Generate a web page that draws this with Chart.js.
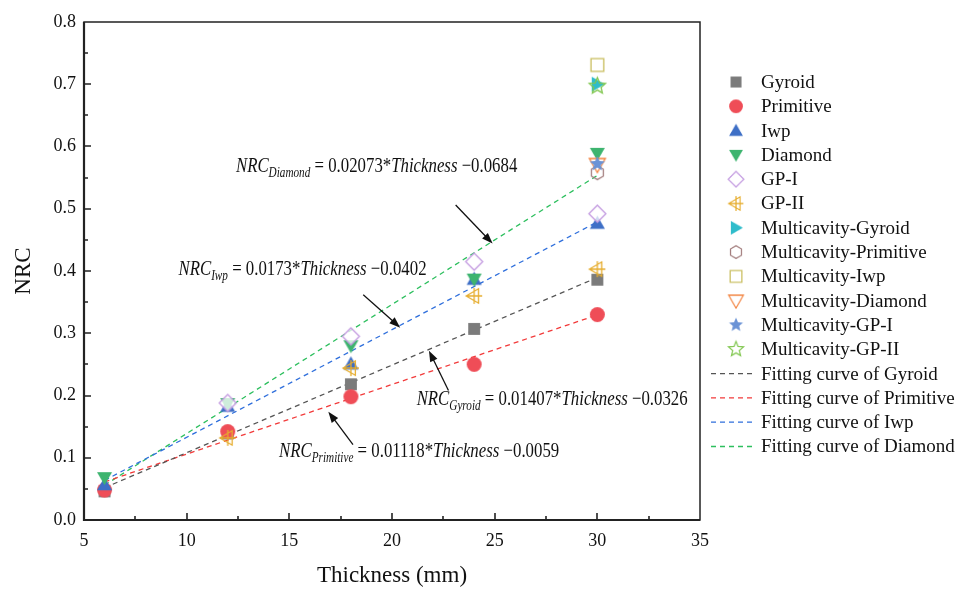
<!DOCTYPE html>
<html>
<head>
<meta charset="utf-8">
<script src="https://cdn.jsdelivr.net/npm/chart.js@4.4.1/dist/chart.umd.min.js"></script>
<style>
  html, body { margin: 0; padding: 0; background: #fff; }
</style>
</head>
<body>
<canvas id="nrcChart" width="960" height="590"></canvas>
<script>
// thickness of the samples (mm)
const thickness = [6, 12, 18, 24, 30];

// measured NRC per structure (null = no sample)
const gyroid    = [0.046, 0.139, 0.218, 0.307, 0.386];
const primitive = [0.048, 0.142, 0.198, 0.250, 0.330];
const iwp       = [0.057, 0.183, 0.251, 0.387, 0.477];
const diamond   = [0.068, 0.187, 0.280, 0.387, 0.589];
const gp1       = [null, 0.188, 0.295, 0.415, 0.492];
const gp2       = [null, 0.132, 0.244, 0.360, 0.403];

// multicavity samples, 30 mm only
const mcThickness = [30];
const mcGyroid    = [0.700];
const mcPrimitive = [0.558];
const mcIwp       = [0.731];
const mcDiamond   = [0.571];
const mcGp1       = [0.572];
const mcGp2       = [0.697];

// fitted lines, evaluated at 6 and 30 mm
const fitX         = [6, 30];
const fitGyroid    = [0.0518, 0.3895];
const fitPrimitive = [0.0612, 0.3295];
const fitIwp       = [0.0636, 0.4788];
const fitDiamond   = [0.0560, 0.5535];

const SERIF = '"Liberation Serif", "Times New Roman", serif';

function pts(xs, ys) {
  return xs.map((x, i) => ({ x: x, y: ys[i] })).filter(p => p.y !== null);
}

// marker images, so the plot and the legend share one look
function marker(shape, fill, stroke, size) {
  const s = size + 6;
  const c = document.createElement('canvas');
  c.width = s; c.height = s;
  const g = c.getContext('2d');
  g.translate(s / 2, s / 2);
  const r = size / 2;
  g.lineWidth = 1.3;
  g.beginPath();
  if (shape === 'square') {
    g.rect(-r * 0.85, -r * 0.85, r * 1.7, r * 1.7);
  } else if (shape === 'circle') {
    g.arc(0, 0, r, 0, Math.PI * 2);
  } else if (shape === 'up') {
    g.moveTo(0, -r); g.lineTo(r, r * 0.75); g.lineTo(-r, r * 0.75); g.closePath();
  } else if (shape === 'down') {
    g.moveTo(0, r); g.lineTo(r, -r * 0.75); g.lineTo(-r, -r * 0.75); g.closePath();
  } else if (shape === 'right') {
    g.moveTo(r, 0); g.lineTo(-r * 0.75, -r); g.lineTo(-r * 0.75, r); g.closePath();
  } else if (shape === 'diamond') {
    g.moveTo(0, -r); g.lineTo(r, 0); g.lineTo(0, r); g.lineTo(-r, 0); g.closePath();
  } else if (shape === 'hexagon') {
    for (let k = 0; k < 6; k++) {
      const a = -Math.PI / 2 + k * Math.PI / 3;
      const px = Math.cos(a) * r * 0.92, py = Math.sin(a) * r * 0.92;
      k ? g.lineTo(px, py) : g.moveTo(px, py);
    }
    g.closePath();
  } else if (shape === 'star') {
    for (let k = 0; k < 10; k++) {
      const a = -Math.PI / 2 + k * Math.PI / 5;
      const rr = k % 2 ? r * 0.45 : r;
      const px = Math.cos(a) * rr, py = Math.sin(a) * rr;
      k ? g.lineTo(px, py) : g.moveTo(px, py);
    }
    g.closePath();
  } else if (shape === 'leftcross') {
    g.moveTo(-r, 0); g.lineTo(r * 0.55, -r * 0.9); g.lineTo(r * 0.55, r * 0.9); g.closePath();
    g.moveTo(-r, 0); g.lineTo(r, 0);
    g.moveTo(0, -r); g.lineTo(0, r);
  }
  if (fill) { g.fillStyle = fill; g.fill(); }
  if (stroke) { g.strokeStyle = stroke; g.stroke(); }
  return c;
}

function scatterSet(label, xs, ys, style, order) {
  return {
    type: 'scatter',
    label: label,
    data: pts(xs, ys),
    pointStyle: style,
    pointRadius: 7,
    order: order
  };
}

function fitSet(label, ys, color) {
  return {
    type: 'line',
    label: label,
    data: pts(fitX, ys),
    borderColor: color,
    borderWidth: 1.3,
    borderDash: [5, 4],
    pointRadius: 0,
    fill: false,
    order: 100,
    lineColor: color
  };
}

const datasets = [
  scatterSet('Gyroid', thickness, gyroid, marker('square', '#7b7b7b', null, 14), 30),
  scatterSet('Primitive', thickness, primitive, marker('circle', '#ef4d57', null, 15), 29),
  scatterSet('Iwp', thickness, iwp, marker('up', '#3e6fc6', null, 15), 28),
  scatterSet('Diamond', thickness, diamond, marker('down', '#3db46f', null, 15), 27),
  scatterSet('GP-I', thickness, gp1, marker('diamond', 'rgba(255,255,255,0.75)', '#c39be0', 17), 26),
  scatterSet('GP-II', thickness, gp2, marker('leftcross', null, '#e6ad2e', 16), 25),
  scatterSet('Multicavity-Gyroid', mcThickness, mcGyroid, marker('right', '#2fbccb', null, 15), 24),
  scatterSet('Multicavity-Primitive', mcThickness, mcPrimitive, marker('hexagon', null, '#a47f7f', 15), 23),
  scatterSet('Multicavity-Iwp', mcThickness, mcIwp, marker('square', null, '#c8bd5c', 15), 22),
  scatterSet('Multicavity-Diamond', mcThickness, mcDiamond, marker('down', null, '#f2813c', 16), 21),
  scatterSet('Multicavity-GP-I', mcThickness, mcGp1, marker('star', '#6b93d6', null, 16), 20),
  scatterSet('Multicavity-GP-II', mcThickness, mcGp2, marker('star', null, '#7fc64d', 17), 19),
  fitSet('Fitting curve of Gyroid', fitGyroid, '#555555'),
  fitSet('Fitting curve of Primitive', fitPrimitive, '#f23a3a'),
  fitSet('Fitting curve of Iwp', fitIwp, '#2f6fdc'),
  fitSet('Fitting curve of Diamond', fitDiamond, '#2dbf5e')
];

// fitted equations with arrows, anchored in data units
const equations = [
  { name: 'Diamond', body: ' = 0.02073*', tail: ' \u22120.0684', at: [12.4, 0.570], from: [23.1, 0.506], to: [24.9, 0.444] },
  { name: 'Iwp', body: ' = 0.0173*', tail: ' \u22120.0402', at: [9.6, 0.405], from: [18.6, 0.362], to: [20.4, 0.309] },
  { name: 'Gyroid', body: ' = 0.01407*', tail: ' \u22120.0326', at: [21.2, 0.196], from: [22.75, 0.208], to: [21.8, 0.272] },
  { name: 'Primitive', body: ' = 0.01118*', tail: ' \u22120.0059', at: [14.5, 0.112], from: [18.1, 0.121], to: [16.9, 0.174] }
];

function drawArrow(ctx, x1, y1, x2, y2) {
  const a = Math.atan2(y2 - y1, x2 - x1);
  const L = 11, W = 4;
  ctx.beginPath();
  ctx.moveTo(x1, y1);
  ctx.lineTo(x2 - Math.cos(a) * L * 0.8, y2 - Math.sin(a) * L * 0.8);
  ctx.strokeStyle = '#111';
  ctx.lineWidth = 1.3;
  ctx.stroke();
  ctx.beginPath();
  ctx.moveTo(x2, y2);
  ctx.lineTo(x2 - Math.cos(a) * L - Math.sin(a) * W, y2 - Math.sin(a) * L + Math.cos(a) * W);
  ctx.lineTo(x2 - Math.cos(a) * L + Math.sin(a) * W, y2 - Math.sin(a) * L - Math.cos(a) * W);
  ctx.closePath();
  ctx.fillStyle = '#111';
  ctx.fill();
}

const decor = {
  id: 'decor',
  afterDraw(chart) {
    const ctx = chart.ctx;
    const xs = chart.scales.x, ys = chart.scales.y;
    const a = chart.chartArea;
    ctx.save();

    // frame
    ctx.strokeStyle = '#222';
    ctx.lineWidth = 1.5;
    ctx.strokeRect(a.left, a.top, a.right - a.left, a.bottom - a.top);
    ctx.lineWidth = 2.2;
    ctx.beginPath();
    ctx.moveTo(a.left, a.top); ctx.lineTo(a.left, a.bottom); ctx.lineTo(a.right, a.bottom);
    ctx.stroke();

    // inward ticks
    ctx.lineWidth = 1.6;
    ctx.beginPath();
    for (let v = 7.5; v < 35; v += 2.5) {
      const px = Math.round(xs.getPixelForValue(v));
      const len = v % 5 === 0 ? 7 : 4;
      ctx.moveTo(px, a.bottom); ctx.lineTo(px, a.bottom - len);
    }
    for (let k = 1; k < 16; k++) {
      const py = Math.round(ys.getPixelForValue(k * 0.05));
      const len = k % 2 === 0 ? 7 : 4;
      ctx.moveTo(a.left, py); ctx.lineTo(a.left + len, py);
    }
    ctx.stroke();

    // equations (set condensed)
    ctx.fillStyle = '#111';
    ctx.textBaseline = 'alphabetic';
    ctx.textAlign = 'left';
    const squeeze = 0.8;
    equations.forEach(e => {
      const x0 = xs.getPixelForValue(e.at[0]);
      const y = ys.getPixelForValue(e.at[1]) + 7;
      const parts = [
        { t: 'NRC', f: 'italic 21px ' + SERIF, dy: 0 },
        { t: e.name, f: 'italic 14px ' + SERIF, dy: 5 },
        { t: e.body, f: '21px ' + SERIF, dy: 0 },
        { t: 'Thickness', f: 'italic 21px ' + SERIF, dy: 0 },
        { t: e.tail, f: '21px ' + SERIF, dy: 0 }
      ];
      ctx.save();
      ctx.translate(x0, y);
      ctx.scale(squeeze, 1);
      let x = 0;
      parts.forEach(p => {
        ctx.font = p.f;
        ctx.fillText(p.t, x, p.dy);
        x += ctx.measureText(p.t).width;
      });
      ctx.restore();
      drawArrow(ctx,
        xs.getPixelForValue(e.from[0]), ys.getPixelForValue(e.from[1]),
        xs.getPixelForValue(e.to[0]), ys.getPixelForValue(e.to[1]));
    });

    // legend
    const lx = 711, top = 82, step = 24.3;
    ctx.font = '19px ' + SERIF;
    ctx.textBaseline = 'middle';
    chart.data.datasets.forEach((ds, i) => {
      const y = top + i * step;
      if (ds.type === 'line') {
        ctx.strokeStyle = ds.lineColor;
        ctx.lineWidth = 1.3;
        ctx.setLineDash([5, 4]);
        ctx.beginPath();
        ctx.moveTo(lx, y); ctx.lineTo(lx + 43, y);
        ctx.stroke();
        ctx.setLineDash([]);
      } else {
        const img = ds.pointStyle;
        const w = img.width * 0.92, h = img.height * 0.92;
        ctx.drawImage(img, 736 - w / 2, y - h / 2, w, h);
      }
      ctx.fillStyle = '#111';
      ctx.fillText(ds.label, 761, y + 1);
    });
    ctx.restore();
  }
};

new Chart(document.getElementById('nrcChart'), {
  data: { datasets: datasets },
  options: {
    responsive: false,
    animation: false,
    devicePixelRatio: 1,
    layout: { padding: { left: 0, top: 22, right: 260, bottom: 0 } },
    plugins: { legend: { display: false }, tooltip: { enabled: false } },
    scales: {
      x: {
        type: 'linear',
        min: 5, max: 35,
        grid: { display: false, drawTicks: false },
        border: { display: false },
        ticks: { stepSize: 5, color: '#111', padding: 10, font: { family: SERIF, size: 18 } },
        title: { display: true, text: 'Thickness (mm)', color: '#111', font: { family: SERIF, size: 23 }, padding: { top: 0, bottom: 0 } },
        afterFit(scale) { scale.height = 70; }
      },
      y: {
        min: 0, max: 0.8,
        grid: { display: false, drawTicks: false },
        border: { display: false },
        ticks: { stepSize: 0.1, color: '#111', padding: 8, font: { family: SERIF, size: 18 },
                 callback: v => v.toFixed(1) },
        title: { display: true, text: 'NRC', color: '#111', font: { family: SERIF, size: 23 }, padding: { top: 10, bottom: 0 } },
        afterFit(scale) { scale.width = 84; }
      }
    }
  },
  plugins: [decor]
});
</script>
</body>
</html>
